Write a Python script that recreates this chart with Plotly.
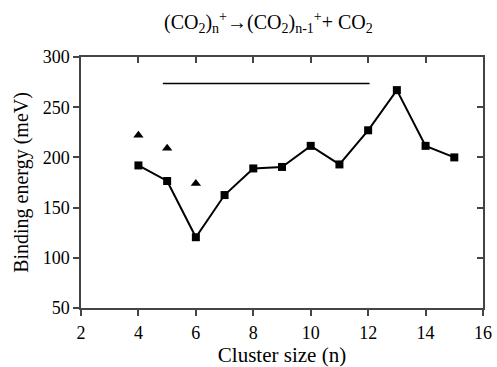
import plotly.graph_objects as go

n_sq = [4, 5, 6, 7, 8, 9, 10, 11, 12, 13, 14, 15]
e_sq = [192, 176.5, 120.5, 162.5, 189, 190.5, 211.5, 193, 227, 267, 211.5, 200]
n_tri = [4, 5, 6]
e_tri = [222, 209, 174]
ref_x = [4.85, 12.05]
ref_y = [273.5, 273.5]
x_ticks = [2, 4, 6, 8, 10, 12, 14, 16]
y_ticks = [50, 100, 150, 200, 250, 300]
x_range = [2, 16]
y_range = [50, 300]

font = "Liberation Serif, Times New Roman, serif"
axcol = "#444"

fig = go.Figure()
fig.add_trace(go.Scatter(x=n_sq, y=e_sq, mode="lines+markers",
                         line=dict(color="black", width=2),
                         marker=dict(symbol="square", size=8, color="black"),
                         showlegend=False))
fig.add_trace(go.Scatter(x=n_tri, y=e_tri, mode="markers",
                         marker=dict(symbol="triangle-up", size=9, color="black"),
                         showlegend=False))
fig.add_trace(go.Scatter(x=ref_x, y=ref_y, mode="lines",
                         line=dict(color="black", width=1.5),
                         showlegend=False))
# invisible trace to activate the mirrored (top/right) axes
fig.add_trace(go.Scatter(x=x_range, y=y_range, xaxis="x2", yaxis="y2", mode="markers",
                         marker=dict(opacity=0), hoverinfo="skip", showlegend=False))

main_common = dict(showline=True, linecolor=axcol, linewidth=1.5, mirror=True,
                   ticks="outside", ticklen=6, tickcolor=axcol, tickwidth=1.5,
                   showgrid=False, zeroline=False, automargin=False,
                   tickfont=dict(family=font, size=18, color="black"))
mirror_common = dict(showline=False, ticks="inside", ticklen=6, tickcolor=axcol, tickwidth=1.5,
                     showgrid=False, zeroline=False, showticklabels=False, automargin=False)

fig.update_layout(
    width=497, height=367,
    margin=dict(l=81, r=14, t=57, b=59, autoexpand=False),
    paper_bgcolor="white", plot_bgcolor="white",
    title=dict(text="(CO<sub>2</sub>)<sub>n</sub><sup>+</sup>→(CO<sub>2</sub>)<sub>n-1</sub><sup>+</sup>+ CO<sub>2</sub>",
               x=0.54, xanchor="center", y=0.94, yanchor="middle",
               font=dict(family=font, size=20, color="black")),
    xaxis=dict(range=x_range, tickvals=x_ticks, ticklabelstandoff=2,
               title=dict(text="Cluster size (n)", font=dict(family=font, size=21, color="black"), standoff=4),
               **main_common),
    yaxis=dict(range=y_range, tickvals=y_ticks,
               title=dict(text="Binding energy (meV)", font=dict(family=font, size=20, color="black"), standoff=9),
               **main_common),
    xaxis2=dict(range=x_range, tickvals=x_ticks, overlaying="x", side="top", **mirror_common),
    yaxis2=dict(range=y_range, tickvals=y_ticks, overlaying="y", side="right", **mirror_common),
)

fig.write_html("out.html")
